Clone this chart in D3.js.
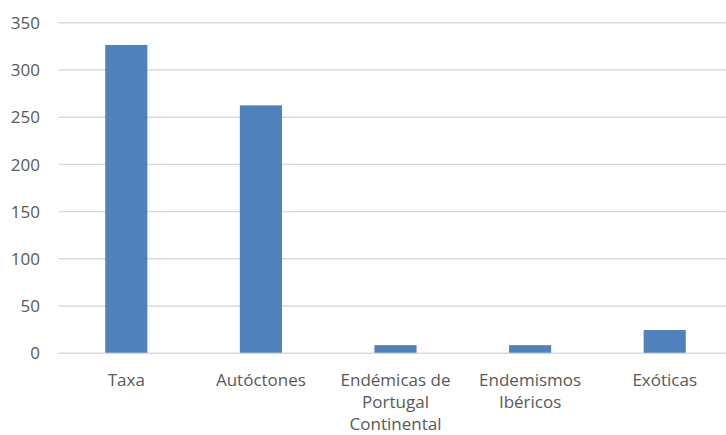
<!DOCTYPE html>
<html>
<head>
<meta charset="utf-8">
<title>Taxa</title>
<script src="https://d3js.org/d3.v7.min.js"></script>
<style>
    body { margin: 0; background: #fff; }
    .tick text { fill: #595959; font-size: 17px; font-family: "Open Sans", "Noto Sans", sans-serif; }
</style>
</head>
<body>
<div id="chart"></div>
<script>
// chart data
var categories = ["Taxa", "Autóctones", "Endémicas de Portugal Continental", "Endemismos Ibéricos", "Exóticas"];
var labelLines = [["Taxa"], ["Autóctones"], ["Endémicas de", "Portugal", "Continental"], ["Endemismos", "Ibéricos"], ["Exóticas"]];
var values = [326, 262, 8, 8, 24];
var yTicks = [0, 50, 100, 150, 200, 250, 300, 350];

var w = 726, h = 435;
var margin = {top: 22, right: -6, bottom: 82, left: 59};

var svg = d3.select("#chart").append("svg")
    .attr("width", w)
    .attr("height", h);

var x = d3.scaleBand()
    .domain(categories)
    .range([margin.left, w - margin.right])
    .paddingInner(0.687)
    .paddingOuter(0.3435);

var y = d3.scaleLinear()
    .domain([0, 350])
    .range([h - margin.bottom - 0.3, margin.top + 0.3]);

// gridlines + y labels
var yAxis = svg.append("g")
    .attr("transform", "translate(" + margin.left + ",0)")
    .call(d3.axisLeft(y).tickValues(yTicks).tickSize(-(w - margin.left)).tickPadding(19));
yAxis.select(".domain").remove();
yAxis.selectAll(".tick line").attr("stroke", "#d9d9d9").attr("stroke-width", 1.4);
yAxis.selectAll(".tick text").attr("dy", "0.36em");

// bars
svg.selectAll("rect.bar")
    .data(values)
    .enter().append("rect")
    .attr("class", "bar")
    .attr("x", function(d, i) { return x(categories[i]); })
    .attr("width", x.bandwidth())
    .attr("y", function(d) { return y(d); })
    .attr("height", function(d) { return y(0) - y(d); })
    .attr("fill", "#4f81bd");

// x labels
var xAxis = svg.append("g")
    .attr("transform", "translate(0," + y(0) + ")")
    .call(d3.axisBottom(x).tickSize(0).tickFormat(""));
xAxis.select(".domain").remove();
xAxis.selectAll(".tick text").remove();
xAxis.selectAll(".tick").each(function(d, i) {
    var t = d3.select(this).append("text")
        .attr("text-anchor", "middle")
        .attr("y", 33);
    labelLines[i].forEach(function(line, j) {
        t.append("tspan")
            .attr("x", 0)
            .attr("dy", j === 0 ? 0 : 22)
            .text(line);
    });
});
</script>
</body>
</html>
